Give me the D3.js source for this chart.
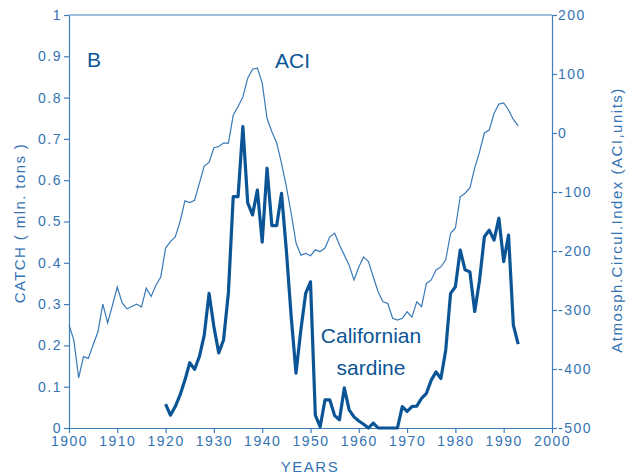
<!doctype html>
<html>
<head>
<meta charset="utf-8">
<style>
  body { margin: 0; background: #fff; }
  svg text { font-family: "Liberation Sans", Arial, sans-serif; }
</style>
<script src="https://d3js.org/d3.v7.min.js"></script>
</head>
<body>
<svg width="635" height="476" class="svg1"></svg>
<script>
// ACI (thin line), annual values 1900-1993
var aciYears = d3.range(1900, 1994);
var aciValues = [
  -325, -351, -415, -379, -382, -359, -337, -290, -322, -292,
  -261, -288, -298, -294, -290, -295, -263, -277, -258, -244,
  -195, -184, -176, -150, -115, -118, -114, -85, -56, -50,
  -25, -23, -17, -17, 30, 45, 61, 93, 108, 110,
  85, 25, 2, -17, -51, -91, -136, -186, -207, -204,
  -208, -198, -201, -195, -176, -170, -190, -207, -224, -249,
  -227, -210, -218, -244, -269, -286, -289, -314, -317, -314,
  -303, -312, -286, -294, -255, -249, -232, -227, -215, -170,
  -161, -108, -102, -93, -59, -32, 0, 5, 33, 49,
  51, 39, 23, 12
];

// Californian sardine catch, mln tons, 1920-1993
var catchYears = d3.range(1920, 1994);
var catchValues = [
  0.058, 0.031, 0.052, 0.080, 0.116, 0.158, 0.142, 0.173, 0.225, 0.326,
  0.245, 0.182, 0.213, 0.327, 0.56, 0.56, 0.73, 0.545, 0.516, 0.576,
  0.45, 0.629, 0.49, 0.49, 0.568, 0.43, 0.27, 0.133, 0.237, 0.326,
  0.354, 0.031, 0.003, 0.068, 0.068, 0.03, 0.02, 0.097, 0.044, 0.027,
  0.017, 0.009, 0, 0.012, 0, 0, 0, 0, 0, 0.052,
  0.04, 0.052, 0.053, 0.072, 0.084, 0.116, 0.136, 0.12, 0.189, 0.326,
  0.342, 0.431, 0.383, 0.378, 0.282, 0.358, 0.463, 0.479, 0.455, 0.508,
  0.403, 0.467, 0.249, 0.203
];

var xTicks = d3.range(1900, 2001, 10);
var leftTicks = d3.range(0, 11).map(function(i) { return i / 10; });
var rightTicks = d3.range(-500, 201, 100);

var axisColor = "#3f7fbd",
    textColor = "#3574b3",
    aciColor = "#3a7ab8",
    sardineColor = "#0b5596";

var svg = d3.select(".svg1"),
    plotLeft = 69, plotRight = 552, plotTop = 15, plotBottom = 428;

var x = d3.scaleLinear().domain([1900, 2000]).range([plotLeft, plotRight]);
var yCatch = d3.scaleLinear().domain([0, 1]).range([plotBottom, plotTop]);
var yAci = d3.scaleLinear().domain([-500, 200]).range([plotBottom, plotTop]);

function styleAxis(g) {
  g.selectAll("path, line").attr("stroke", axisColor).attr("stroke-width", 1.2);
  g.selectAll("text").attr("fill", textColor).attr("font-size", "14px")
   .attr("letter-spacing", "1.5px")
   .attr("font-family", "Liberation Sans, Arial, sans-serif");
}

// top frame line
svg.append("line")
   .attr("x1", plotLeft).attr("x2", plotRight)
   .attr("y1", plotTop).attr("y2", plotTop)
   .attr("stroke", axisColor).attr("stroke-width", 1.2);

svg.append("g")
   .attr("transform", "translate(0," + plotBottom + ")")
   .call(d3.axisBottom(x).tickValues(xTicks).tickFormat(function(d) { return String(d); })
         .tickSize(5).tickSizeOuter(0).tickPadding(3))
   .call(styleAxis);

svg.append("g")
   .attr("transform", "translate(" + plotLeft + ",0)")
   .call(d3.axisLeft(yCatch).tickValues(leftTicks)
         .tickFormat(function(d) { return d === 0 ? "0" : d === 1 ? "1" : d3.format(".1f")(d); })
         .tickSize(5).tickSizeOuter(0).tickPadding(2))
   .call(styleAxis);

svg.append("g")
   .attr("transform", "translate(" + plotRight + ",0)")
   .call(d3.axisRight(yAci).tickValues(rightTicks)
         .tickFormat(function(d) { return String(d); })
         .tickSize(5).tickSizeOuter(0).tickPadding(1))
   .call(styleAxis);

// ACI line
var aciData = aciYears.map(function(yr, i) { return [yr, aciValues[i]]; });
svg.append("path")
   .datum(aciData)
   .attr("fill", "none")
   .attr("stroke", aciColor)
   .attr("stroke-width", 1.2)
   .attr("d", d3.line().x(function(d) { return x(d[0]); }).y(function(d) { return yAci(d[1]); }));

// sardine line
var catchData = catchYears.map(function(yr, i) { return [yr, catchValues[i]]; });
svg.append("path")
   .datum(catchData)
   .attr("fill", "none")
   .attr("stroke", sardineColor)
   .attr("stroke-width", 3.2)
   .attr("stroke-linejoin", "round")
   .attr("d", d3.line().x(function(d) { return x(d[0]); }).y(function(d) { return yCatch(d[1]); }));

// labels
svg.append("text").attr("x", 87).attr("y", 67)
   .attr("font-size", "21px").attr("fill", sardineColor).text("B");
svg.append("text").attr("x", 275).attr("y", 68)
   .attr("font-size", "21px").attr("fill", sardineColor).text("ACI");
svg.append("text").attr("x", 371).attr("y", 343).attr("text-anchor", "middle")
   .attr("font-size", "21px").attr("fill", sardineColor).text("Californian");
svg.append("text").attr("x", 371).attr("y", 375).attr("text-anchor", "middle")
   .attr("font-size", "21px").attr("fill", sardineColor).text("sardine");

svg.append("text")
   .attr("transform", "translate(25,223) rotate(-90)")
   .attr("text-anchor", "middle").attr("font-size", "15px").attr("letter-spacing", "1.4px")
   .attr("fill", textColor)
   .text("CATCH ( mln. tons )");

svg.append("text")
   .attr("transform", "translate(622,220) rotate(-90)")
   .attr("text-anchor", "middle").attr("font-size", "15px").attr("letter-spacing", "1.5px")
   .attr("fill", textColor)
   .text("Atmosph.Circul.Index (ACI,units)");

svg.append("text")
   .attr("x", 310).attr("y", 472).attr("text-anchor", "middle")
   .attr("font-size", "15px").attr("letter-spacing", "1.5px").attr("fill", textColor)
   .text("YEARS");
</script>
</body>
</html>
